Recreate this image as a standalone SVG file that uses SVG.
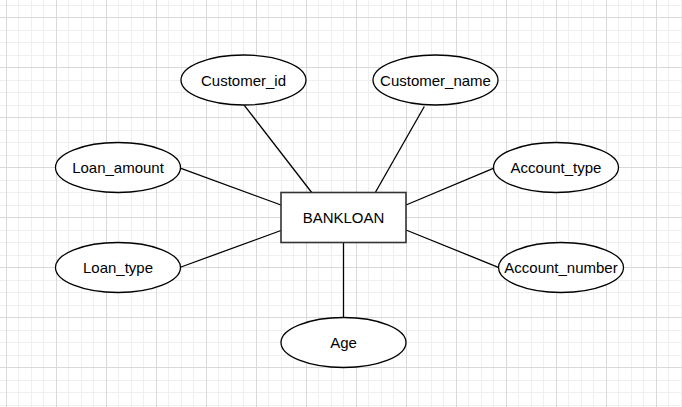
<svg xmlns="http://www.w3.org/2000/svg" width="682" height="407" viewBox="0 0 682 407">
  <defs>
    <pattern id="grid" patternUnits="userSpaceOnUse" x="6" y="17" width="50" height="50">
      <rect x="12" y="0" width="1" height="50" fill="#efefef"/>
      <rect x="25" y="0" width="1" height="50" fill="#efefef"/>
      <rect x="37" y="0" width="1" height="50" fill="#efefef"/>
      <rect x="0" y="13" width="50" height="1" fill="#efefef"/>
      <rect x="0" y="25" width="50" height="1" fill="#efefef"/>
      <rect x="0" y="38" width="50" height="1" fill="#efefef"/>
      <rect x="0" y="0" width="1" height="50" fill="#d9d9d9"/>
      <rect x="0" y="0" width="50" height="1" fill="#d9d9d9"/>
    </pattern>
  </defs>
  <style>
    .attr { fill: #ffffff; stroke: #000000; stroke-width: 1.3; }
    .entity { fill: #ffffff; stroke: #333333; stroke-width: 1.6; }
    .edge { stroke: #000000; stroke-width: 1.3; fill: none; }
    .lbl { font-family: "Liberation Sans", Arial, sans-serif; font-size: 15px; fill: #000000; text-anchor: middle; }
  </style>
  <rect x="0" y="0" width="682" height="407" fill="#ffffff"/>
  <rect x="0" y="0" width="682" height="407" fill="url(#grid)"/>

  <g id="connectors">
    <line class="edge" x1="244.3" y1="105.3" x2="311.7" y2="192.5"/>
    <line class="edge" x1="424.3" y1="106.5" x2="375.3" y2="192.5"/>
    <line class="edge" x1="181" y1="168.3" x2="281" y2="205"/>
    <line class="edge" x1="493.3" y1="168.3" x2="406" y2="205"/>
    <line class="edge" x1="181" y1="267" x2="281" y2="230.5"/>
    <line class="edge" x1="406" y1="230" x2="498.3" y2="267.3"/>
    <line class="edge" x1="343.5" y1="242.5" x2="343.5" y2="317.5"/>
  </g>

  <g id="bankloan">
    <rect class="entity" x="281" y="192.5" width="125" height="50"/>
    <text class="lbl" x="343.5" y="223">BANKLOAN</text>
  </g>
  <g id="customer_id">
    <ellipse class="attr" cx="243.5" cy="80" rx="62.5" ry="25"/>
    <text class="lbl" x="243.5" y="85.5">Customer_id</text>
  </g>
  <g id="customer_name">
    <ellipse class="attr" cx="435.5" cy="80" rx="62.5" ry="25"/>
    <text class="lbl" x="435.5" y="85.5">Customer_name</text>
  </g>
  <g id="loan_amount">
    <ellipse class="attr" cx="118" cy="167.5" rx="62.5" ry="25"/>
    <text class="lbl" x="118" y="173">Loan_amount</text>
  </g>
  <g id="account_type">
    <ellipse class="attr" cx="556" cy="167.5" rx="62.5" ry="25"/>
    <text class="lbl" x="556" y="173">Account_type</text>
  </g>
  <g id="loan_type">
    <ellipse class="attr" cx="118" cy="267.5" rx="62.5" ry="25"/>
    <text class="lbl" x="118" y="273">Loan_type</text>
  </g>
  <g id="account_number">
    <ellipse class="attr" cx="561" cy="267.5" rx="62.5" ry="25"/>
    <text class="lbl" x="561" y="273">Account_number</text>
  </g>
  <g id="age">
    <ellipse class="attr" cx="343.5" cy="342.5" rx="62.5" ry="25"/>
    <text class="lbl" x="343.5" y="348">Age</text>
  </g>
</svg>
